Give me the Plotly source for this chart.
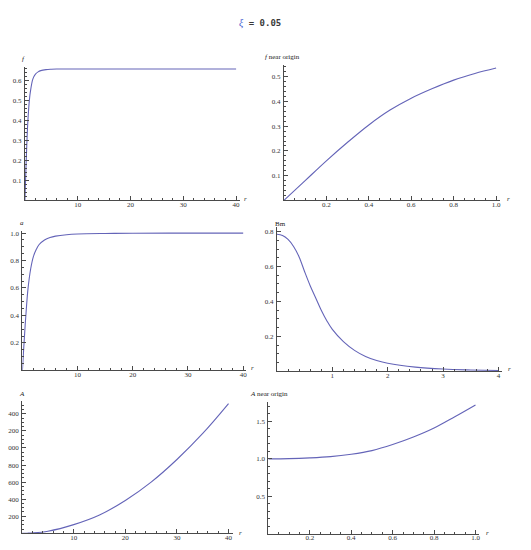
import plotly.graph_objects as go

# ---------------- data ----------------
f_r = [0, 0.1, 0.2, 0.3, 0.4, 0.5, 0.6, 0.7, 0.8, 0.9, 1.0, 1.5, 2, 2.5, 3, 4, 5, 6, 8, 10, 15, 20, 30, 40]
f_v = [0, 0.08, 0.16, 0.235, 0.305, 0.365, 0.413, 0.452, 0.486, 0.513, 0.535, 0.605, 0.63, 0.641,
       0.647, 0.652, 0.654, 0.655, 0.655, 0.655, 0.655, 0.655, 0.655, 0.655]

fn_r = [0, 0.1, 0.2, 0.3, 0.4, 0.5, 0.6, 0.7, 0.8, 0.9, 1.0]
fn_v = [0, 0.08, 0.16, 0.235, 0.305, 0.365, 0.413, 0.452, 0.486, 0.513, 0.535]

a_r = [0, 0.25, 0.5, 0.75, 1, 1.5, 2, 2.5, 3, 4, 5, 6, 8, 10, 15, 20, 30, 40]
a_v = [0, 0.17, 0.33, 0.47, 0.59, 0.74, 0.83, 0.88, 0.915, 0.95, 0.968, 0.978, 0.988, 0.993,
       0.997, 0.999, 1.0, 1.0]

bm_r = [0, 0.1, 0.2, 0.3, 0.4, 0.5, 0.6, 0.7, 0.8, 0.9, 1.0, 1.2, 1.4, 1.6, 1.8, 2.0, 2.5, 3.0, 3.5, 4.0]
bm_v = [0.785, 0.778, 0.755, 0.715, 0.655, 0.57, 0.49, 0.42, 0.35, 0.29, 0.24, 0.17, 0.12, 0.085,
        0.062, 0.046, 0.024, 0.013, 0.008, 0.005]

A_r = [0, 1, 2, 5, 10, 15, 20, 25, 30, 35, 40]
A_v = [1, 1.72, 4.5, 25, 102, 215, 385, 600, 865, 1170, 1520]

An_r = [0, 0.1, 0.2, 0.3, 0.4, 0.5, 0.6, 0.7, 0.8, 0.9, 1.0]
An_v = [1.0, 1.003, 1.013, 1.03, 1.062, 1.11, 1.19, 1.29, 1.41, 1.56, 1.717]

# tick labels
f_yticks = [0.1, 0.2, 0.3, 0.4, 0.5, 0.6]
f_ylabels = ["0.1", "0.2", "0.3", "0.4", "0.5", "0.6"]
r40_ticks = [10, 20, 30, 40]
r40_labels = ["10", "20", "30", "40"]
r1_ticks = [0.2, 0.4, 0.6, 0.8, 1.0]
r1_labels = ["0.2", "0.4", "0.6", "0.8", "1.0"]
fn_yticks = [0.1, 0.2, 0.3, 0.4, 0.5]
fn_ylabels = ["0.1", "0.2", "0.3", "0.4", "0.5"]
a_yticks = [0.2, 0.4, 0.6, 0.8, 1.0]
a_ylabels = ["0.2", "0.4", "0.6", "0.8", "1.0"]
bm_xticks = [1, 2, 3, 4]
bm_xlabels = ["1", "2", "3", "4"]
bm_yticks = [0.2, 0.4, 0.6, 0.8]
bm_ylabels = ["0.2", "0.4", "0.6", "0.8"]
A_yticks = [200, 400, 600, 800, 1000, 1200, 1400]
A_ylabels = ["200", "400", "600", "800", "000", "200", "400"]  # leading digit clipped in original
An_yticks = [0.5, 1.0, 1.5]
An_ylabels = ["0.5", "1.0", "1.5"]

title_sym = "ξ"
title_val = " = 0.05"

# ---------------- layout ----------------
W, H = 531, 550
LINE = "#6464b8"
AX = "#4a4a4a"
TICKFONT = dict(family="Liberation Serif", size=7, color="#333333")

panels = [
    dict(x=f_r, y=f_v, x0=25, xs=5.3, xmax=40.7, y0=199.5, ys=200.5, ymax=0.667,
         xt=r40_ticks, xl=r40_labels, xminor=2, yt=f_yticks, yl=f_ylabels, yminor=0.02,
         ylab="<i>f</i>", ylabx=24, ylaby=58, rx=246, ry=198),
    dict(x=fn_r, y=fn_v, x0=285, xs=213, xmax=1.02, y0=199.8, ys=248, ymax=0.547,
         xt=r1_ticks, xl=r1_labels, xminor=0.05, yt=fn_yticks, yl=fn_ylabels, yminor=0.02,
         ylab="<i>f</i> near origin", ylabx=284, ylaby=56, rx=510, ry=198),
    dict(x=a_r, y=a_v, x0=22.5, xs=5.54, xmax=40.6, y0=370, ys=137.5, ymax=1.018,
         xt=r40_ticks, xl=r40_labels, xminor=2, yt=a_yticks, yl=a_ylabels, yminor=0.05,
         ylab="<i>a</i>", ylabx=22, ylaby=222, rx=253, ry=368),
    dict(x=bm_r, y=bm_v, x0=278, xs=55.6, xmax=4.06, y0=371, ys=175, ymax=0.825,
         xt=bm_xticks, xl=bm_xlabels, xminor=0.2, yt=bm_yticks, yl=bm_ylabels, yminor=0.05,
         ylab="Bm", ylabx=282, ylaby=223, rx=511, ry=369),
    dict(x=A_r, y=A_v, x0=22.2, xs=5.18, xmax=40.8, y0=533.3, ys=0.0855, ymax=1551,
         xt=r40_ticks, xl=r40_labels, xminor=2, yt=A_yticks, yl=A_ylabels, yminor=50,
         ylab="<i>A</i>", ylabx=22, ylaby=394, rx=241, ry=533),
    dict(x=An_r, y=An_v, x0=269.4, xs=207.9, xmax=1.015, y0=534, ys=75.3, ymax=1.757,
         xt=r1_ticks, xl=r1_labels, xminor=0.05, yt=An_yticks, yl=An_ylabels, yminor=0.1,
         ylab="<i>A</i> near origin", ylabx=270, ylaby=394, rx=489, ry=533),
]

fig = go.Figure()
annotations = []
for i, p in enumerate(panels, start=1):
    sfx = "" if i == 1 else str(i)
    x1 = p["x0"] + p["xs"] * p["xmax"]
    ytop = p["y0"] - p["ys"] * p["ymax"]
    fig.add_trace(go.Scatter(x=p["x"], y=p["y"], mode="lines", line=dict(color=LINE, width=1.1),
                             line_shape="spline", xaxis="x" + sfx, yaxis="y" + sfx,
                             showlegend=False, hoverinfo="skip"))
    common = dict(showline=True, linecolor=AX, linewidth=1, showgrid=False, zeroline=False,
                  ticks="inside", ticklen=4, tickwidth=1, tickcolor=AX, tickfont=TICKFONT,
                  tickmode="array")
    fig.layout["xaxis" + sfx] = dict(
        common, domain=[p["x0"] / W, x1 / W], range=[0, p["xmax"]], anchor="y" + sfx,
        tickvals=p["xt"], ticktext=p["xl"], ticklabelstandoff=-3,
        minor=dict(ticks="inside", ticklen=2, tickcolor=AX, dtick=p["xminor"], tick0=0))
    fig.layout["yaxis" + sfx] = dict(
        common, domain=[1 - p["y0"] / H, 1 - ytop / H], range=[0, p["ymax"]], anchor="x" + sfx,
        tickvals=p["yt"], ticktext=p["yl"], ticklabelstandoff=1,
        minor=dict(ticks="inside", ticklen=2, tickcolor=AX, dtick=p["yminor"], tick0=0))
    annotations.append(dict(x=p["ylabx"] / W, y=1 - p["ylaby"] / H, xref="paper", yref="paper",
                            text=p["ylab"], showarrow=False, xanchor="center", yanchor="middle",
                            font=dict(family="Liberation Serif", size=7, color="#222222")))
    annotations.append(dict(x=p["rx"] / W, y=1 - p["ry"] / H, xref="paper", yref="paper",
                            text="<i>r</i>", showarrow=False, xanchor="center", yanchor="middle",
                            font=dict(family="Liberation Serif", size=7, color="#222222")))

annotations.append(dict(
    x=261 / W, y=1 - 22.5 / H, xref="paper", yref="paper", showarrow=False,
    xanchor="center", yanchor="middle",
    text=("<span style='color:#4a5fd0;font-family:Liberation Serif;font-size:10px'><i>" + title_sym +
          "</i></span><b>" + title_val + "</b>"),
    font=dict(family="DejaVu Sans Mono", size=9, color="#3a3a3a")))

fig.update_layout(width=W, height=H, margin=dict(l=0, r=0, t=0, b=0),
                  paper_bgcolor="white", plot_bgcolor="white", annotations=annotations)
fig.write_html("out.html", config={"displayModeBar": False, "staticPlot": True},
               post_script="document.body.style.margin='0';document.body.style.overflow='hidden';")
